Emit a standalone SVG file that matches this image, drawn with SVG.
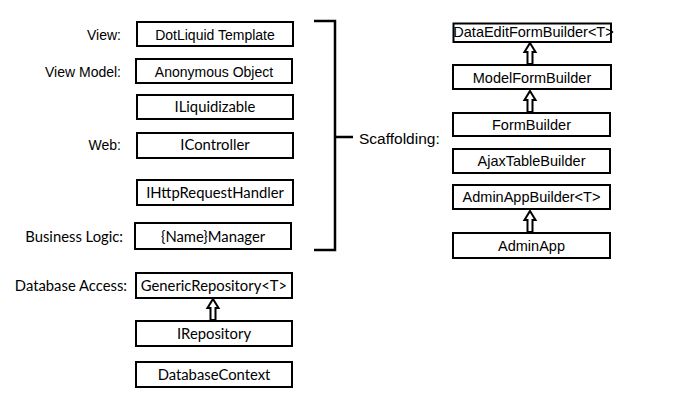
<svg xmlns="http://www.w3.org/2000/svg" width="700" height="400" viewBox="0 0 700 400">
<style>
  .box { fill: #ffffff; stroke: #000000; stroke-width: 2; }
  .a { font-family: "Liberation Sans", Arial, sans-serif; font-size: 14px; fill: #000; }
  .ar { font-family: "Liberation Sans", Arial, sans-serif; font-size: 14.5px; fill: #000; }
  .s { font-family: "Liberation Sans", Arial, sans-serif; font-size: 15.5px; fill: #000; }
  .c { font-family: Lato, "Open Sans", sans-serif; font-size: 14.8px; fill: #000; }
  .m { text-anchor: middle; }
  .e { text-anchor: end; }
  .conn { fill: none; stroke: #000; stroke-width: 2.5; }
  .arrow { fill: #fff; stroke: #000; stroke-width: 2; stroke-linejoin: miter; }
</style>
<defs>
  <path id="inh" class="arrow" d="M0,1 L5.5,10 L2.5,10 L2.5,22 L-2.5,22 L-2.5,10 L-5.5,10 Z"/>
</defs>
<rect width="700" height="400" fill="#fff"/>

<g id="labels">
  <text class="a e" x="121" y="39.5">View:</text>
  <text class="a e" x="121" y="76.5">View Model:</text>
  <text class="a e" x="121" y="150">Web:</text>
  <text class="c e" x="123" y="241.5">Business Logic:</text>
  <text class="c e" x="127" y="290.5">Database Access:</text>
  <text class="s" x="359" y="143.5">Scaffolding:</text>
</g>

<g id="connectors">
  <path class="conn" d="M314,21 H335 V250 H314 M335,137 H353"/>
  <use href="#inh" x="530" y="42"/>
  <use href="#inh" x="530" y="90"/>
  <use href="#inh" x="530" y="210"/>
  <use href="#inh" x="213" y="298"/>
</g>

<g id="dotliquid-template">
  <rect class="box" x="137" y="22" width="156" height="24"/>
  <text class="a m" x="215" y="39.5">DotLiquid Template</text>
</g>
<g id="anonymous-object">
  <rect class="box" x="136" y="59" width="156" height="24"/>
  <text class="a m" x="214" y="76.5">Anonymous Object</text>
</g>
<g id="iliquidizable">
  <rect class="box" x="137" y="95" width="156" height="24"/>
  <text class="c m" x="215" y="112">ILiquidizable</text>
</g>
<g id="icontroller">
  <rect class="box" x="137" y="133" width="156" height="25"/>
  <text class="c m" x="215" y="150">IController</text>
</g>
<g id="ihttprequesthandler">
  <rect class="box" x="137" y="180" width="156" height="25"/>
  <text class="c m" x="215" y="197.5">IHttpRequestHandler</text>
</g>
<g id="name-manager">
  <rect class="box" x="135" y="223" width="156" height="26"/>
  <text class="c m" x="213" y="241.5">{Name}Manager</text>
</g>
<g id="generic-repository">
  <rect class="box" x="136" y="273" width="156" height="25"/>
  <text class="c m" x="214" y="290.5">GenericRepository&lt;T&gt;</text>
</g>
<g id="irepository">
  <rect class="box" x="136" y="321" width="156" height="25"/>
  <text class="c m" x="214" y="338.5">IRepository</text>
</g>
<g id="database-context">
  <rect class="box" x="136" y="362" width="156" height="25"/>
  <text class="c m" x="214" y="380">DatabaseContext</text>
</g>

<g id="data-edit-form-builder">
  <rect class="box" x="453.5" y="23.5" width="157.5" height="18.5"/>
  <text class="ar m" x="533.5" y="37">DataEditFormBuilder&lt;T&gt;</text>
</g>
<g id="model-form-builder">
  <rect class="box" x="453" y="65" width="158" height="24"/>
  <text class="ar m" x="532" y="82.5">ModelFormBuilder</text>
</g>
<g id="form-builder">
  <rect class="box" x="453" y="113" width="157" height="23"/>
  <text class="ar m" x="531.5" y="130">FormBuilder</text>
</g>
<g id="ajax-table-builder">
  <rect class="box" x="453" y="149" width="157" height="24"/>
  <text class="ar m" x="531.5" y="166">AjaxTableBuilder</text>
</g>
<g id="admin-app-builder">
  <rect class="box" x="453" y="185" width="157" height="24"/>
  <text class="ar m" x="531.5" y="202">AdminAppBuilder&lt;T&gt;</text>
</g>
<g id="admin-app">
  <rect class="box" x="453" y="233" width="157" height="25"/>
  <text class="ar m" x="531.5" y="251">AdminApp</text>
</g>
</svg>
